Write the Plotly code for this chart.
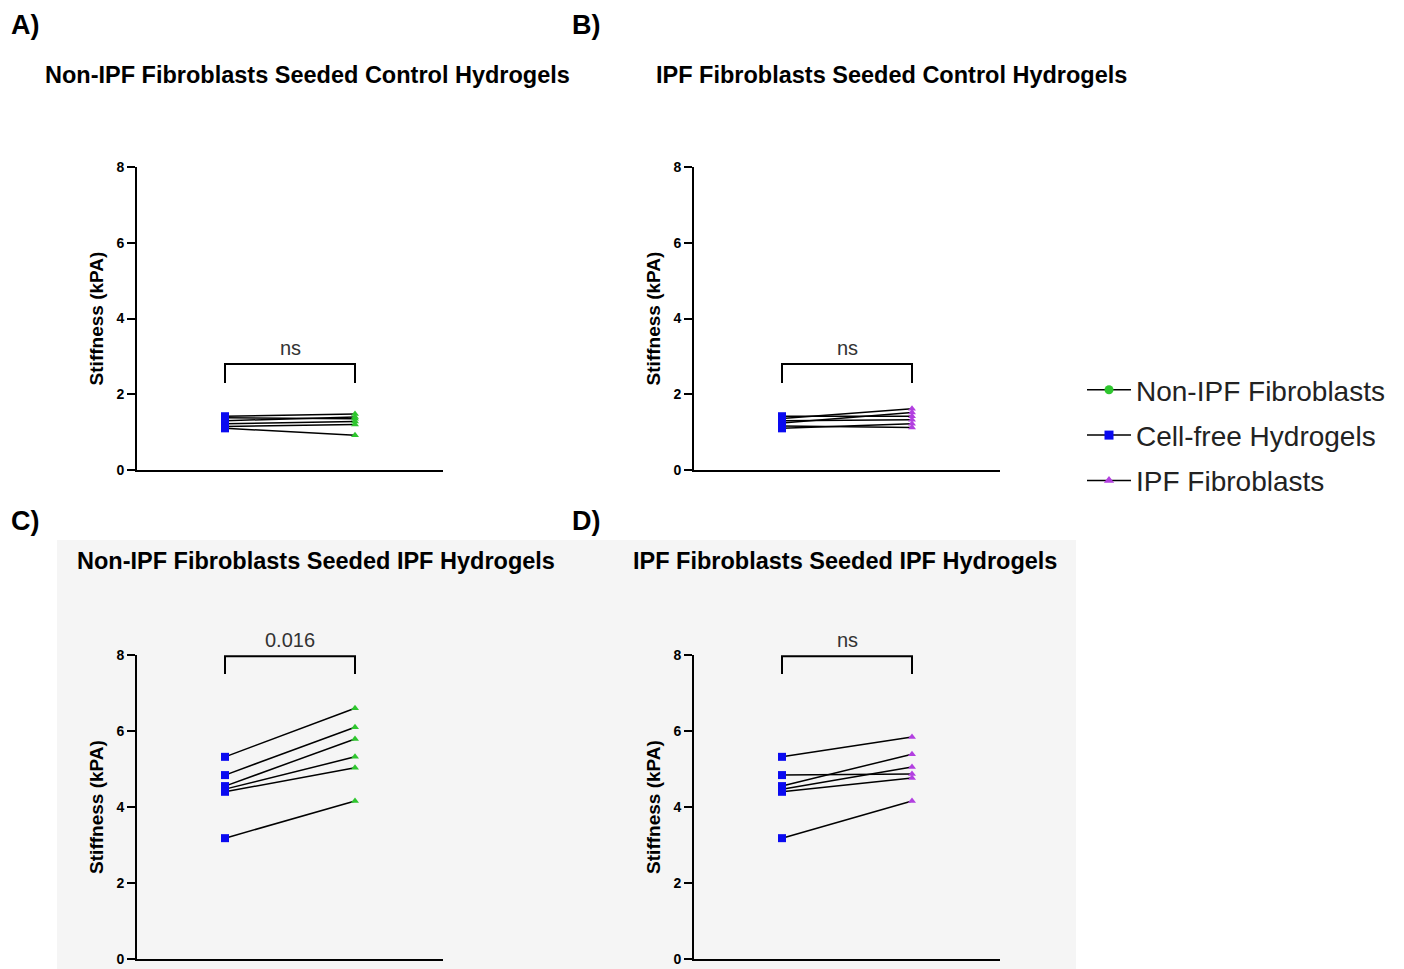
import plotly.graph_objects as go

# ---------------- data ----------------
A_cellfree = [1.42, 1.38, 1.30, 1.22, 1.15, 1.10]
A_nonipf = [1.48, 1.35, 1.40, 1.28, 1.20, 0.92]
B_cellfree = [1.42, 1.36, 1.30, 1.24, 1.16, 1.10]
B_ipf = [1.42, 1.62, 1.33, 1.52, 1.12, 1.22]
C_cellfree = [5.32, 4.84, 4.55, 4.47, 4.40, 3.18]
C_nonipf = [6.60, 6.10, 5.79, 5.32, 5.03, 4.16]
D_cellfree = [5.32, 4.84, 4.55, 4.47, 4.40, 3.18]
D_ipf = [5.84, 4.87, 5.39, 5.05, 4.76, 4.16]

titles = ["Non-IPF Fibroblasts Seeded Control Hydrogels",
          "IPF Fibroblasts Seeded Control Hydrogels",
          "Non-IPF Fibroblasts Seeded IPF Hydrogels",
          "IPF Fibroblasts Seeded IPF Hydrogels"]
letters = ["A)", "B)", "C)", "D)"]
sig_labels = ["ns", "ns", "0.016", "ns"]
bracket_top = [2.80, 2.80, 7.97, 7.97]
bracket_leg = [2.30, 2.30, 7.50, 7.50]
yticks = [0, 2, 4, 6, 8]

GREEN = "#2ec62e"
BLUE = "#0a0af0"
PURPLE = "#b23fe0"

# page body has an 8px margin
OFF = 8
W, H = 1404 - 2 * OFF, 969 - OFF
def px(v): return (v - OFF) / W
def py(v): return 1 - (v - OFF) / H

panels = [
    dict(cf=A_cellfree, seeded=A_nonipf, color=GREEN, xd=(137, 443), yd=(167, 470)),
    dict(cf=B_cellfree, seeded=B_ipf, color=PURPLE, xd=(694, 1000), yd=(167, 470)),
    dict(cf=C_cellfree, seeded=C_nonipf, color=GREEN, xd=(137, 443), yd=(655, 959)),
    dict(cf=D_cellfree, seeded=D_ipf, color=PURPLE, xd=(694, 1000), yd=(655, 959)),
]
title_pos = [(307, 75), (891, 75), (316, 561), (845, 561)]
letter_pos = [(9, 25), (570, 25), (9, 521), (570, 521)]

fig = go.Figure()
layout = dict()
shapes = [dict(type="rect", xref="paper", yref="paper", x0=px(57), x1=px(1076),
               y0=-0.02, y1=py(540), fillcolor="#f5f5f5", line=dict(width=0), layer="below")]
annotations = []

for i, p in enumerate(panels):
    n = i + 1
    xa = "x" if n == 1 else f"x{n}"
    ya = "y" if n == 1 else f"y{n}"
    for a, b in zip(p["cf"], p["seeded"]):
        fig.add_trace(go.Scatter(x=[0, 1], y=[a, b], mode="lines",
                                 line=dict(color="black", width=1.5),
                                 xaxis=xa, yaxis=ya, showlegend=False, hoverinfo="skip"))
    fig.add_trace(go.Scatter(x=[0] * len(p["cf"]), y=p["cf"], mode="markers",
                             marker=dict(symbol="square", size=8, color=BLUE),
                             xaxis=xa, yaxis=ya, showlegend=False))
    fig.add_trace(go.Scatter(x=[1] * len(p["seeded"]), y=p["seeded"], mode="markers",
                             marker=dict(symbol="triangle-up", size=7, color=p["color"]),
                             xaxis=xa, yaxis=ya, showlegend=False))
    layout["xaxis" if n == 1 else f"xaxis{n}"] = dict(
        domain=[px(p["xd"][0]), px(p["xd"][1])], range=[-0.677, 1.677],
        showgrid=False, zeroline=False, showticklabels=False, ticks="",
        showline=True, linecolor="black", linewidth=2, anchor=ya, fixedrange=True,
        automargin=False)
    layout["yaxis" if n == 1 else f"yaxis{n}"] = dict(
        domain=[py(p["yd"][1]), py(p["yd"][0])], range=[0, 8],
        showgrid=False, zeroline=False, showline=True, linecolor="black", linewidth=2,
        ticks="outside", ticklen=8, tickwidth=2, tickcolor="black",
        tickvals=yticks, ticktext=[f"<b>{t}</b>" for t in yticks],
        tickfont=dict(size=14, color="black"),
        title=dict(text="<b>Stiffness (kPA)</b>", font=dict(size=19, color="black"), standoff=8),
        anchor=xa, fixedrange=True, automargin=False)
    shapes.append(dict(type="path", xref=xa, yref=ya,
                       path=f"M 0 {bracket_leg[i]} L 0 {bracket_top[i]} L 1 {bracket_top[i]} L 1 {bracket_leg[i]}",
                       line=dict(color="black", width=2)))
    annotations.append(dict(x=0.5, y=bracket_top[i], xref=xa, yref=ya, text=sig_labels[i],
                            showarrow=False, yanchor="bottom", yshift=3,
                            font=dict(size=20, color="#333333")))
    annotations.append(dict(x=px(title_pos[i][0]), y=py(title_pos[i][1]), xref="paper", yref="paper",
                            text=f"<b>{titles[i]}</b>", showarrow=False, xanchor="center", yanchor="middle",
                            font=dict(size=23.5, color="black")))
    annotations.append(dict(x=px(letter_pos[i][0]), y=py(letter_pos[i][1]), xref="paper", yref="paper",
                            text=f"<b>{letters[i]}</b>", showarrow=False, xanchor="left", yanchor="middle",
                            font=dict(size=27, color="black")))

# legend entries
leg = [("Non-IPF Fibroblasts", GREEN, "circle"),
       ("Cell-free Hydrogels", BLUE, "square"),
       ("IPF Fibroblasts", PURPLE, "triangle-up")]
for name, col, sym in leg:
    fig.add_trace(go.Scatter(x=[None], y=[None], mode="lines+markers", name=name,
                             line=dict(color="black", width=1.5),
                             marker=dict(symbol=sym, size=9, color=col),
                             legendgroup=name, showlegend=True))

fig.update_layout(
    width=W, height=H, margin=dict(l=0, r=0, t=0, b=0, autoexpand=False),
    paper_bgcolor="white", plot_bgcolor="rgba(0,0,0,0)",
    font=dict(family="Liberation Sans, Arial, sans-serif", color="black"),
    shapes=shapes, annotations=annotations,
    legend=dict(x=px(1082), y=py(365), xanchor="left", yanchor="top",
                font=dict(size=28, color="#222222"), tracegroupgap=6, itemwidth=44,
                bgcolor="rgba(0,0,0,0)"),
    **layout)

fig.write_html("out.html")
